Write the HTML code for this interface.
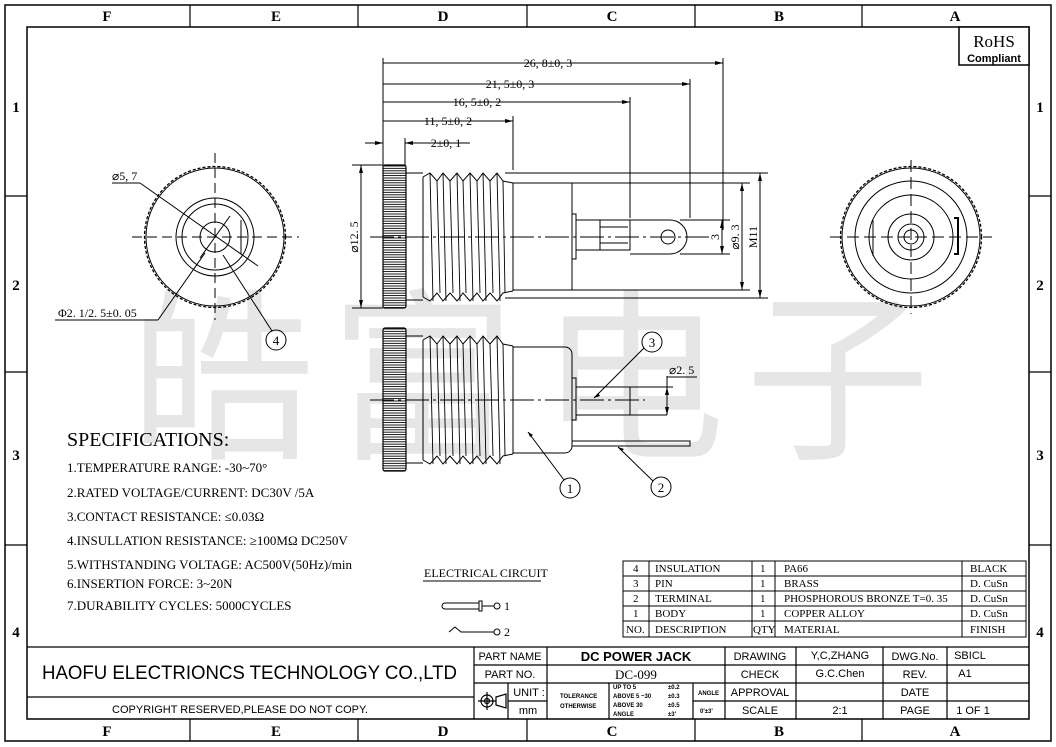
<!DOCTYPE html>
<html><head><meta charset="utf-8"><style>
html,body{margin:0;padding:0;background:#fff}
svg{display:block}
text{font-family:"Liberation Serif","Noto Serif CJK SC",serif;fill:#000}
.s{font-family:"Liberation Sans","Noto Sans CJK SC",sans-serif}
</style></head><body>
<svg width="1056" height="747" viewBox="0 0 1056 747" xmlns="http://www.w3.org/2000/svg">
<defs>
<pattern id="kh" width="10" height="2.4" patternUnits="userSpaceOnUse"><rect width="10" height="2.4" fill="#fff"/><line x1="0" y1="1" x2="10" y2="1" stroke="#000" stroke-width="0.9"/></pattern>
<g id="body">
 <rect x="383" y="-72" width="23" height="143" fill="url(#kh)" stroke="#000" stroke-width="1.2" rx="2"/>
 <line x1="406" y1="-64" x2="423" y2="-64" stroke="#000"/>
 <line x1="406" y1="63" x2="423" y2="63" stroke="#000"/>
 <polyline fill="none" stroke="#000" stroke-width="1" points="423,-60 430,-64 437,-56 443,-64 450,-56 457,-64 463,-56 470,-64 477,-56 483,-64 490,-56 497,-64 503,-56 513,-54"/>
 <polyline fill="none" stroke="#000" stroke-width="1" points="423,60 430,64 437,56 443,64 450,56 457,64 463,56 470,64 477,56 483,64 490,56 497,64 503,56 513,54"/>
 <line x1="423" y1="-60" x2="423" y2="60" stroke="#000"/>
 <g stroke="#000" stroke-width="0.9">
  <line x1="430" y1="-64" x2="433" y2="64"/><line x1="437" y1="-56" x2="440" y2="56"/>
  <line x1="443" y1="-64" x2="446" y2="64"/><line x1="450" y1="-56" x2="453" y2="56"/>
  <line x1="457" y1="-64" x2="460" y2="64"/><line x1="463" y1="-56" x2="466" y2="56"/>
  <line x1="470" y1="-64" x2="473" y2="64"/><line x1="477" y1="-56" x2="480" y2="56"/>
  <line x1="483" y1="-64" x2="486" y2="64"/><line x1="490" y1="-56" x2="493" y2="56"/>
  <line x1="497" y1="-64" x2="500" y2="64"/><line x1="503" y1="-56" x2="505" y2="56"/>
 </g>
 <line x1="513" y1="-54" x2="513" y2="54" stroke="#000"/>
</g>
</defs>
<rect width="1056" height="747" fill="#fff"/>
<!-- watermark -->
<g font-size="185">
<text x="130" y="445" style="fill:#e6e6e6;font-family:'Noto Sans CJK SC',sans-serif">皓</text>
<text x="330" y="445" style="fill:#e6e6e6;font-family:'Noto Sans CJK SC',sans-serif">富</text>
<text x="540" y="445" style="fill:#e6e6e6;font-family:'Noto Sans CJK SC',sans-serif">电</text>
<text x="745" y="445" style="fill:#e6e6e6;font-family:'Noto Sans CJK SC',sans-serif">子</text>
</g>
<!-- frame -->
<rect x="5" y="5" width="1046" height="736" fill="none" stroke="#000" stroke-width="1.5"/>
<rect x="27" y="27" width="1002" height="692" fill="none" stroke="#000" stroke-width="1.5"/>
<g stroke="#000" stroke-width="1.2">
<line x1="190" y1="5" x2="190" y2="27"/><line x1="358" y1="5" x2="358" y2="27"/><line x1="527" y1="5" x2="527" y2="27"/><line x1="695" y1="5" x2="695" y2="27"/><line x1="862" y1="5" x2="862" y2="27"/>
<line x1="190" y1="719" x2="190" y2="741"/><line x1="358" y1="719" x2="358" y2="741"/><line x1="527" y1="719" x2="527" y2="741"/><line x1="695" y1="719" x2="695" y2="741"/><line x1="862" y1="719" x2="862" y2="741"/>
<line x1="5" y1="196" x2="27" y2="196"/><line x1="5" y1="372" x2="27" y2="372"/><line x1="5" y1="545" x2="27" y2="545"/>
<line x1="1029" y1="196" x2="1051" y2="196"/><line x1="1029" y1="372" x2="1051" y2="372"/><line x1="1029" y1="545" x2="1051" y2="545"/>
</g>
<g font-size="15" font-weight="bold" text-anchor="middle">
<text x="107" y="21">F</text><text x="276" y="21">E</text><text x="443" y="21">D</text><text x="612" y="21">C</text><text x="779" y="21">B</text><text x="955" y="21">A</text>
<text x="107" y="736">F</text><text x="276" y="736">E</text><text x="443" y="736">D</text><text x="612" y="736">C</text><text x="779" y="736">B</text><text x="955" y="736">A</text>
<text x="16" y="112">1</text><text x="16" y="290">2</text><text x="16" y="460">3</text><text x="16" y="637">4</text>
<text x="1040" y="112">1</text><text x="1040" y="290">2</text><text x="1040" y="460">3</text><text x="1040" y="637">4</text>
</g>
<!-- RoHS -->
<rect x="959" y="27" width="70" height="38" fill="#fff" stroke="#000" stroke-width="1.5"/>
<text x="994" y="47" font-size="17" text-anchor="middle">RoHS</text>
<text x="994" y="62" font-size="11" font-weight="bold" text-anchor="middle" class="s">Compliant</text>

<!-- upper side view -->
<g transform="translate(0,237)"><use href="#body"/></g>
<g stroke="#000" fill="none" stroke-width="1">
<rect x="513" y="183" width="59" height="107"/>
<rect x="572" y="214" width="4" height="45"/>
<rect x="576" y="220" width="54" height="30"/>
<path d="M630,220 H670 A17,17 0 0 1 670,254 H630"/>
<circle cx="668" cy="237" r="7"/>
<line x1="600" y1="220" x2="600" y2="250"/><line x1="600" y1="227" x2="628" y2="227"/><line x1="600" y1="243" x2="628" y2="243"/>
<line x1="370" y1="237" x2="710" y2="237" stroke-dasharray="24,4,3,4"/>
<line x1="383" y1="165" x2="383" y2="58"/>
<line x1="405" y1="165" x2="405" y2="138"/>
<line x1="513" y1="170" x2="513" y2="116"/>
<line x1="630" y1="218" x2="630" y2="97"/>
<line x1="690" y1="218" x2="690" y2="79"/>
<line x1="723" y1="230" x2="723" y2="58"/>
<line x1="383" y1="63" x2="723" y2="63"/>
<line x1="383" y1="84" x2="690" y2="84"/>
<line x1="383" y1="102" x2="630" y2="102"/>
<line x1="383" y1="121" x2="513" y2="121"/>
<line x1="365" y1="143" x2="383" y2="143"/><line x1="405" y1="143" x2="470" y2="143"/>
<line x1="352" y1="165" x2="383" y2="165"/><line x1="352" y1="308" x2="383" y2="308"/>
<line x1="361" y1="165" x2="361" y2="308"/>
<line x1="680" y1="220" x2="730" y2="220"/><line x1="680" y1="254" x2="730" y2="254"/>
<line x1="722" y1="220" x2="722" y2="254"/>
<line x1="572" y1="183" x2="750" y2="183"/><line x1="572" y1="290" x2="750" y2="290"/>
<line x1="742" y1="183" x2="742" y2="290"/>
<line x1="505" y1="173" x2="768" y2="173"/><line x1="505" y1="298" x2="768" y2="298"/>
<line x1="760" y1="173" x2="760" y2="298"/>
</g>
<g fill="#000">
<path d="M723,63 l-8,-2 v4z"/><path d="M690,84 l-8,-2 v4z"/><path d="M630,102 l-8,-2 v4z"/><path d="M513,121 l-8,-2 v4z"/>
<path d="M383,143 l-8,-2 v4z"/><path d="M405,143 l8,-2 v4z"/>
<path d="M361,165 l-2,8 h4z"/><path d="M361,308 l-2,-8 h4z"/>
<path d="M722,220 l-2,8 h4z"/><path d="M722,254 l-2,-8 h4z"/>
<path d="M742,183 l-2,8 h4z"/><path d="M742,290 l-2,-8 h4z"/>
<path d="M760,173 l-2,8 h4z"/><path d="M760,298 l-2,-8 h4z"/>
</g>
<g font-size="12" text-anchor="middle">
<text x="548" y="67">26, 8±0, 3</text>
<text x="510" y="88">21, 5±0, 3</text>
<text x="477" y="106">16, 5±0, 2</text>
<text x="448" y="125">11, 5±0, 2</text>
<text x="446" y="147">2±0, 1</text>
<text transform="translate(358,237) rotate(-90)">⌀12. 5</text>
<text transform="translate(719,237) rotate(-90)">3</text>
<text transform="translate(739,237) rotate(-90)">⌀9. 3</text>
<text transform="translate(757,237) rotate(-90)">M11</text>
</g>

<!-- lower view -->
<g transform="translate(0,400)"><use href="#body"/></g>
<g stroke="#000" fill="none" stroke-width="1">
<path d="M513,347 H565 a7,7 0 0 1 7,7 V446 a7,7 0 0 1 -7,7 H513"/>
<rect x="572" y="378" width="4" height="42"/>
<rect x="576" y="387" width="54" height="28"/>
<line x1="630" y1="400" x2="630" y2="415"/>
<line x1="630" y1="415" x2="667" y2="415"/>
<line x1="370" y1="400" x2="645" y2="400" stroke-dasharray="24,4,3,4"/>
<path d="M572,441 H690 V446 H572"/>
<line x1="630" y1="387" x2="673" y2="387"/>
<line x1="667" y1="376" x2="667" y2="415"/>
<line x1="667" y1="377" x2="697" y2="377"/>
<circle cx="652" cy="342" r="10"/><line x1="644" y1="348" x2="594" y2="398"/>
<circle cx="570" cy="488" r="10"/><line x1="564" y1="480" x2="528" y2="432"/>
<circle cx="661" cy="487" r="10"/><line x1="653" y1="481" x2="618" y2="447"/>
</g>
<g fill="#000"><path d="M667,387 l-2,8 h4z"/><path d="M667,415 l-2,-8 h4z"/><path d="M594,398 l6,-2 -2,-3z"/><path d="M528,432 l5,3 -3,2z"/><path d="M618,447 l6,2 -2,2z"/></g>
<g font-size="13" text-anchor="middle">
<text x="652" y="347">3</text><text x="570" y="493">1</text><text x="661" y="492">2</text><text x="276" y="345">4</text>
</g>
<text x="669" y="374" font-size="12">⌀2. 5</text>

<!-- left end view -->
<g stroke="#000" fill="none" stroke-width="1">
<circle cx="215" cy="237" r="69"/>
<circle cx="215" cy="237" r="70.5" stroke-width="1.3" stroke-dasharray="2,3" stroke-linecap="round"/>
<circle cx="215" cy="237" r="39"/>
<circle cx="215" cy="237" r="33"/>
<circle cx="215" cy="237" r="15"/>
<line x1="241" y1="220" x2="241" y2="254"/>
<line x1="132" y1="237" x2="299" y2="237" stroke-dasharray="10,5"/>
<line x1="215" y1="153" x2="215" y2="320" stroke-dasharray="10,5"/>
<line x1="112" y1="183" x2="140" y2="183"/><line x1="140" y1="183" x2="258" y2="266"/>
<line x1="230" y1="216" x2="200" y2="258"/>
<line x1="55" y1="320" x2="158" y2="320"/><line x1="158" y1="320" x2="205" y2="253"/>
<circle cx="276" cy="340" r="10"/><line x1="272" y1="331" x2="223" y2="255"/>
</g>
<text x="112" y="180" font-size="12">⌀5, 7</text>
<text x="58" y="317" font-size="12">Φ2. 1/2. 5±0. 05</text>

<!-- right end view -->
<g stroke="#000" fill="none" stroke-width="1">
<circle cx="911" cy="237" r="69"/>
<circle cx="911" cy="237" r="70.5" stroke-width="1.3" stroke-dasharray="2,3" stroke-linecap="round"/>
<circle cx="911" cy="237" r="56"/>
<circle cx="911" cy="237" r="42"/>
<circle cx="911" cy="237" r="23"/>
<circle cx="911" cy="237" r="13"/>
<circle cx="911" cy="237" r="7"/>
<line x1="873" y1="220" x2="873" y2="256"/>
<path d="M954,218 H958 V254 H954" stroke-width="2"/>
<line x1="830" y1="237" x2="992" y2="237" stroke-dasharray="12,5"/>
<line x1="911" y1="160" x2="911" y2="314" stroke-dasharray="12,5"/>
</g>

<!-- specs -->
<text x="67" y="446" font-size="20">SPECIFICATIONS:</text>
<g font-size="13">
<text x="67" y="472">1.TEMPERATURE RANGE: -30~70°</text>
<text x="67" y="497">2.RATED VOLTAGE/CURRENT: DC30V /5A</text>
<text x="67" y="521">3.CONTACT RESISTANCE: ≤0.03Ω</text>
<text x="67" y="545">4.INSULLATION RESISTANCE: ≥100MΩ  DC250V</text>
<text x="67" y="569">5.WITHSTANDING VOLTAGE: AC500V(50Hz)/min</text>
<text x="67" y="588">6.INSERTION FORCE: 3~20N</text>
<text x="67" y="610">7.DURABILITY CYCLES: 5000CYCLES</text>
</g>
<!-- electrical circuit -->
<text x="424" y="577" font-size="12">ELECTRICAL CIRCUIT</text>
<line x1="423" y1="581" x2="541" y2="581" stroke="#000"/>
<g stroke="#000" fill="none" stroke-width="1">
<path d="M460,603 H445 a3,3 0 0 0 0,6 H479"/><line x1="460" y1="603" x2="479" y2="603"/>
<rect x="479" y="601" width="3" height="10"/><line x1="482" y1="606" x2="494" y2="606"/><circle cx="497" cy="606" r="3"/>
<polyline points="449,632 455,627 461,632 494,632"/><circle cx="497" cy="632" r="3"/>
</g>
<text x="504" y="610" font-size="12">1</text><text x="504" y="636" font-size="12">2</text>

<!-- parts table -->
<g stroke="#000" stroke-width="1" fill="none">
<rect x="623" y="561" width="403" height="76"/>
<line x1="623" y1="576" x2="1026" y2="576"/><line x1="623" y1="591" x2="1026" y2="591"/><line x1="623" y1="606" x2="1026" y2="606"/><line x1="623" y1="621" x2="1026" y2="621"/>
<line x1="649" y1="561" x2="649" y2="637"/><line x1="752" y1="561" x2="752" y2="637"/><line x1="775" y1="561" x2="775" y2="637"/><line x1="962" y1="561" x2="962" y2="637"/>
</g>
<g font-size="11">
<text x="633" y="572">4</text><text x="655" y="572">INSULATION</text><text x="760" y="572">1</text><text x="784" y="572">PA66</text><text x="970" y="572">BLACK</text>
<text x="633" y="587">3</text><text x="655" y="587">PIN</text><text x="760" y="587">1</text><text x="784" y="587">BRASS</text><text x="970" y="587">D. CuSn</text>
<text x="633" y="602">2</text><text x="655" y="602">TERMINAL</text><text x="760" y="602">1</text><text x="784" y="602">PHOSPHOROUS BRONZE T=0. 35</text><text x="970" y="602">D. CuSn</text>
<text x="633" y="617">1</text><text x="655" y="617">BODY</text><text x="760" y="617">1</text><text x="784" y="617">COPPER ALLOY</text><text x="970" y="617">D. CuSn</text>
<text x="626" y="633">NO.</text><text x="655" y="633">DESCRIPTION</text><text x="753" y="633">QTY</text><text x="784" y="633">MATERIAL</text><text x="970" y="633">FINISH</text>
</g>

<!-- title block -->
<g stroke="#000" stroke-width="1.2" fill="none">
<line x1="27" y1="647" x2="1029" y2="647"/>
<line x1="27" y1="697" x2="474" y2="697"/>
<line x1="474" y1="647" x2="474" y2="719"/>
<line x1="474" y1="665" x2="1029" y2="665"/><line x1="474" y1="683" x2="1029" y2="683"/><line x1="508" y1="701" x2="547" y2="701"/><line x1="725" y1="701" x2="1029" y2="701"/><line x1="693" y1="701" x2="725" y2="701"/>
<line x1="547" y1="647" x2="547" y2="719"/><line x1="725" y1="647" x2="725" y2="719"/><line x1="796" y1="647" x2="796" y2="719"/><line x1="883" y1="647" x2="883" y2="719"/><line x1="947" y1="647" x2="947" y2="719"/>
<line x1="508" y1="683" x2="508" y2="719"/><line x1="609" y1="683" x2="609" y2="719"/><line x1="693" y1="683" x2="693" y2="719"/>
<circle cx="487" cy="701" r="6"/><circle cx="487" cy="701" r="2.5"/><line x1="478" y1="701" x2="496" y2="701"/><line x1="487" y1="692" x2="487" y2="710"/>
<path d="M496,697 L506,694 V708 L496,705Z"/>
</g>
<text x="42" y="679" font-size="19" class="s" textLength="415" lengthAdjust="spacingAndGlyphs">HAOFU ELECTRIONCS TECHNOLOGY CO.,LTD</text>
<text x="240" y="713" font-size="11" text-anchor="middle" class="s">COPYRIGHT RESERVED,PLEASE DO NOT COPY.</text>
<g font-size="11" text-anchor="middle">
<text x="510" y="660" class="s">PART NAME</text>
<text x="510" y="678" class="s">PART NO.</text>
<text x="636" y="661" font-size="13" font-weight="bold" class="s">DC POWER JACK</text>
<text x="636" y="679" font-size="13">DC-099</text>
<text x="529" y="696" class="s">UNIT :</text>
<text x="528" y="714" class="s">mm</text>
<text x="760" y="660" class="s">DRAWING</text><text x="840" y="659" class="s">Y,C,ZHANG</text><text x="915" y="660" class="s">DWG.No.</text><text x="970" y="659" class="s">SBICL</text>
<text x="760" y="678" class="s">CHECK</text><text x="840" y="677" class="s">G.C.Chen</text><text x="915" y="678" class="s">REV.</text><text x="965" y="677" class="s">A1</text>
<text x="760" y="696" class="s">APPROVAL</text><text x="915" y="696" class="s">DATE</text>
<text x="760" y="714" class="s">SCALE</text><text x="840" y="714" class="s">2:1</text><text x="915" y="714" class="s">PAGE</text><text x="973" y="714" class="s">1  OF  1</text>
</g>
<g font-size="6" font-weight="bold">
<text x="560" y="698" class="s">TOLERANCE</text><text x="560" y="708" class="s">OTHERWISE</text>
<text x="613" y="689" class="s">UP TO 5</text><text x="613" y="698" class="s">ABOVE 5 ~30</text><text x="613" y="707" class="s">ABOVE 30</text><text x="613" y="716" class="s">ANGLE</text>
<text x="668" y="689" class="s">±0.2</text><text x="668" y="698" class="s">±0.3</text><text x="668" y="707" class="s">±0.5</text><text x="668" y="716" class="s">±3'</text>
<text x="698" y="695" class="s">ANGLE</text><text x="700" y="713" class="s">0'±3'</text>
</g>
</svg>
</body></html>
